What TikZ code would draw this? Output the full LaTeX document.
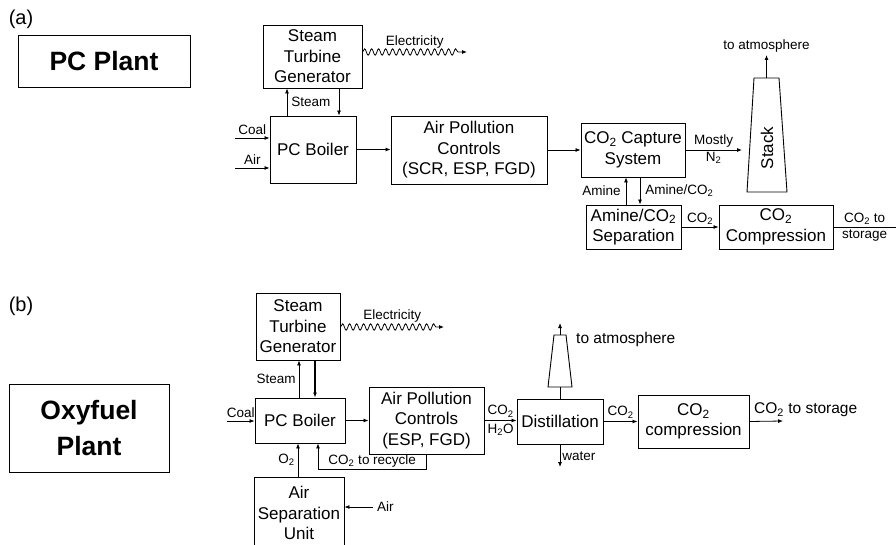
\documentclass[tikz,border=0pt]{standalone}
\usepackage{fontspec}
\setmainfont{Liberation Sans}
\usetikzlibrary{arrows.meta, positioning, decorations.pathmorphing}

\newcommand{\cotwo}{CO\textsubscript{2}}
\newcommand{\boxfont}{\fontsize{17}{20.5}\selectfont}
\newcommand{\lblfont}{\fontsize{13.5}{16}\selectfont}
\newcommand{\biglblfont}{\fontsize{15.5}{18}\selectfont}

\begin{document}
\begin{tikzpicture}[
    x=1pt, y=-1pt,
    >={Latex[length=5pt, width=4pt]},
    box/.style={draw, line width=0.9pt, align=center, inner sep=1pt,
                font=\boxfont},
    plant/.style={draw, line width=0.9pt, align=center,
                  font=\fontsize{26.5}{36}\selectfont\bfseries},
    stack/.style={draw, line width=0.9pt, line join=miter},
    flow/.style={->, line width=0.8pt},
    wavy/.style={->, line width=0.8pt, decorate,
                 decoration={snake, segment length=7pt, amplitude=3.2pt,
                             post length=6pt}},
    lbl/.style={font=\lblfont, inner sep=2pt},
    tag/.style={font=\fontsize{20}{24}\selectfont},
]
\clip (0,0) rectangle (896,545);

% === (a) PC Plant ===
\node[tag] (tagA) at (21,19) {(a)};
\node[plant, minimum width=172pt, minimum height=52pt] (plantA) at (104,61) {PC Plant};

\node[box, minimum width=99pt, minimum height=63pt] (stgA) at (312.5,56.5)
     {Steam\\Turbine\\Generator};
\node[box, minimum width=86pt, minimum height=67pt] (boilA) at (313,149.5) {PC Boiler};
\node[box, minimum width=156pt, minimum height=68pt] (apcA) at (469,150)
     {Air Pollution\\Controls\\(SCR, ESP, FGD)};
\node[box, minimum width=104pt, minimum height=54pt] (capA) at (633,150)
     {\cotwo\ Capture\\System};
\node[box, minimum width=95pt, minimum height=44pt] (sepA) at (633.5,227)
     {Amine/\cotwo\\Separation};
\node[box, minimum width=114pt, minimum height=44pt] (compA) at (776,227)
     {\cotwo\\Compression};

% stack as a plain outline
\draw[stack] (754,78) -- (779,78) -- (787,192) -- (747,192) -- cycle;
\coordinate (stacktopA) at (766.5,78);
\node[font=\boxfont, rotate=90] (stacklblA) at (767,148) {Stack};

\coordinate (elecA) at (467,52);
\coordinate (coalA) at (235,138);
\coordinate (airA) at (235,168);
\coordinate (n2A) at (742,150);
\coordinate (atmA) at (766.5,55);
\coordinate (storA) at (896,227);

\draw[wavy] (stgA.east |- elecA) -- node[lbl, above=1pt] {Electricity} (elecA);
\draw[flow] ([xshift=-26pt]boilA.north) -- node[lbl, right=2pt] {Steam}
     ([xshift=-26pt]boilA.north |- stgA.south);
\draw[flow] ([xshift=26pt]boilA.north |- stgA.south) -- ([xshift=26pt]boilA.north);
\draw[flow] (coalA) -- node[lbl, above=1pt] {Coal} (coalA -| boilA.west);
\draw[flow] (airA) -- node[lbl, above=1pt] {Air} (airA -| boilA.west);
\draw[flow] (boilA.east) -- (boilA.east -| apcA.west);
\draw[flow] (apcA.east) -- (apcA.east -| capA.west);
\draw[flow] (capA.east) -- node[lbl, above=0pt] {Mostly}
     node[lbl, below=0pt] {N\textsubscript{2}} (n2A);
\draw[flow] (stacktopA) -- (atmA) node[lbl, above=0pt] {to atmosphere};
\draw[flow] ([xshift=-7.5pt]sepA.north) -- node[lbl, left=3pt] {Amine}
     ([xshift=-7.5pt]sepA.north |- capA.south);
\draw[flow] ([xshift=7pt]capA.south) -- node[lbl, right=3pt] {Amine/\cotwo}
     ([xshift=7pt]capA.south |- sepA.north);
\draw[flow] (sepA.east) -- node[lbl, above=0pt] {\cotwo} (compA.west);
\draw[line width=0.8pt] (compA.east) -- node[lbl, above=0pt] {\cotwo\ to}
     node[lbl, below=0pt] {storage} (storA);

% === (b) Oxyfuel Plant ===
\node[tag] (tagB) at (21,306) {(b)};
\node[plant, minimum width=160pt, minimum height=88pt] (plantB) at (89,428)
     {Oxyfuel\\Plant};

\node[box, minimum width=84pt, minimum height=67pt] (stgB) at (298,326.5)
     {Steam\\Turbine\\Generator};
\node[box, minimum width=90pt, minimum height=45pt] (boilB) at (300,420.5) {PC Boiler};
\node[box, minimum width=115pt, minimum height=67pt] (apcB) at (426.5,420.5)
     {Air Pollution\\Controls\\(ESP, FGD)};
\node[box, minimum width=90pt, minimum height=72pt] (asuB) at (299,513)
     {Air\\Separation\\Unit};
\node[box, minimum width=86pt, minimum height=45pt] (distB) at (560,421.5) {Distillation};
\node[box, minimum width=111pt, minimum height=53pt] (compB) at (693.5,421.5)
     {\cotwo\\compression};

% small stack above the column
\draw[stack] (554,335) -- (566,335) -- (572,387) -- (548,387) -- cycle;
\coordinate (stacktopB) at (560,335);
\coordinate (stackbotB) at (560,387);

\coordinate (elecB) at (444,327);
\coordinate (coalB) at (227,421);
\coordinate (airB) at (373,507);
\coordinate (atmB) at (560,323);
\coordinate (waterB) at (560,467);
\coordinate (storB) at (783,421);

\draw[wavy] (stgB.east |- elecB) -- node[lbl, above=2pt] {Electricity} (elecB);
\draw[flow] ([xshift=-1pt]boilB.north) -- node[lbl, left=1pt] {Steam}
     ([xshift=-1pt]boilB.north |- stgB.south);
\draw[flow, line width=2pt] ([xshift=15pt]boilB.north |- stgB.south) -- ([xshift=15pt]boilB.north);
\draw[flow] (coalB) -- node[lbl, above=1pt] {Coal} (coalB -| boilB.west);
\draw[flow] (boilB.east) -- (boilB.east -| apcB.west);
\draw[flow] (apcB.south) -- ++(0,15) -| node[lbl, pos=0.25, above=0pt] {\cotwo\ to recycle}
     ([xshift=18pt]boilB.south);
\draw[flow] ([xshift=-1pt]asuB.north) -- node[lbl, left=1pt] {O\textsubscript{2}}
     ([xshift=-1pt]asuB.north |- boilB.south);
\draw[flow] (airB) -- (airB -| asuB.east);
\node[lbl, right=2pt of airB] (airlblB) {Air};
\draw[flow] (apcB.east) -- node[lbl, above=1pt] {\cotwo}
     node[lbl, below=1pt] {H\textsubscript{2}O} (apcB.east -| distB.west);
\draw[line width=0.8pt] (distB.north) -- (stackbotB);
\draw[flow] (stacktopB) -- (atmB);
\node[lbl, font=\biglblfont, anchor=west] (atmlblB) at (574,339) {to atmosphere};
\draw[flow] (distB.south) -- node[lbl, right=0pt] {water} (waterB);
\draw[flow] (distB.east) -- node[lbl, above=1pt] {\cotwo} (distB.east -| compB.west);
\draw[flow] (compB.east) -- (storB);
\node[lbl, font=\biglblfont, anchor=west] (storlblB) at (752,410) {\cotwo\ to storage};

\end{tikzpicture}
\end{document}
